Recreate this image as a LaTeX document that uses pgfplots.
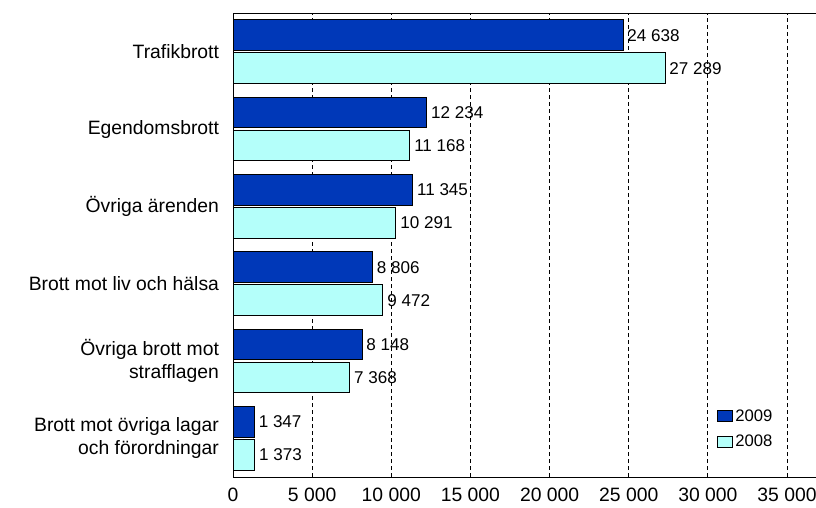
\documentclass[border=0pt]{standalone}
\usepackage{pgfplots}
\pgfplotsset{compat=1.18}
\usepackage{fontspec}
\setmainfont{Liberation Sans}
\definecolor{darkb}{RGB}{0,56,184}
\definecolor{lightc}{RGB}{180,255,250}
\pgfplotsset{boxlegend/.style={legend image code/.code={\draw[##1] (0pt,-4pt) rectangle (11pt,4pt);}}}
\begin{document}
\begin{tikzpicture}
\useasboundingbox (0,0) rectangle (612pt,380.25pt);
\begin{axis}[
  at={(174.75pt,22.5pt)}, anchor=south west,
  scale only axis, width=437.25pt, height=348pt,
  xbar, bar width=23pt,
  xmin=0, xmax=36830, ymin=-0.5, ymax=5.5,
  xtick={0,5000,...,35000},
  ytick={0,1,2,3,4,5},
  yticklabels={{Brott mot övriga lagar\\och förordningar},{Övriga brott mot\\strafflagen},{Brott mot liv och hälsa},{Övriga ärenden},{Egendomsbrott},{Trafikbrott}},
  yticklabel style={align=right, font=\fontsize{14.5}{17.4}\selectfont, xshift=-7pt},
  xticklabel style={font=\fontsize{14.5}{17.4}\selectfont, yshift=-4.5pt},
  /pgf/number format/.cd, 1000 sep={\ }, assume math mode=true, /pgfplots/.cd,
  scaled x ticks=false,
  axis line style={draw=none},
  major tick length=0pt,
  xmajorgrids,
  grid style={black, dash pattern=on 3pt off 2.25pt, line width=0.6pt},
  nodes near coords={\pgfmathprintnumber{\pgfplotspointmeta}},
  nodes near coords style={font=\fontsize{12.8}{14}\selectfont, anchor=west, inner sep=1pt, xshift=2pt},
  legend style={at={(0.830,0.152)}, anchor=north west, draw=none, fill=none, inner sep=0pt,
    font=\fontsize{12.5}{15}\selectfont, row sep=5pt},
  legend cell align=left,
]
\addplot[draw=black, line width=0.7pt, fill=darkb, bar shift=12.4pt, boxlegend]
  coordinates {(24638,5) (12234,4) (11345,3) (8806,2) (8148,1) (1347,0)};
\addlegendentry{2009}
\addplot[draw=black, line width=0.7pt, fill=lightc, bar shift=-12.4pt, boxlegend]
  coordinates {(27289,5) (11168,4) (10291,3) (9472,2) (7368,1) (1373,0)};
\addlegendentry{2008}
\draw[black, line width=0.75pt] (rel axis cs:1,1) -- (rel axis cs:0,1) -- (rel axis cs:0,0) -- (rel axis cs:1,0);
\end{axis}
\end{tikzpicture}
\end{document}
